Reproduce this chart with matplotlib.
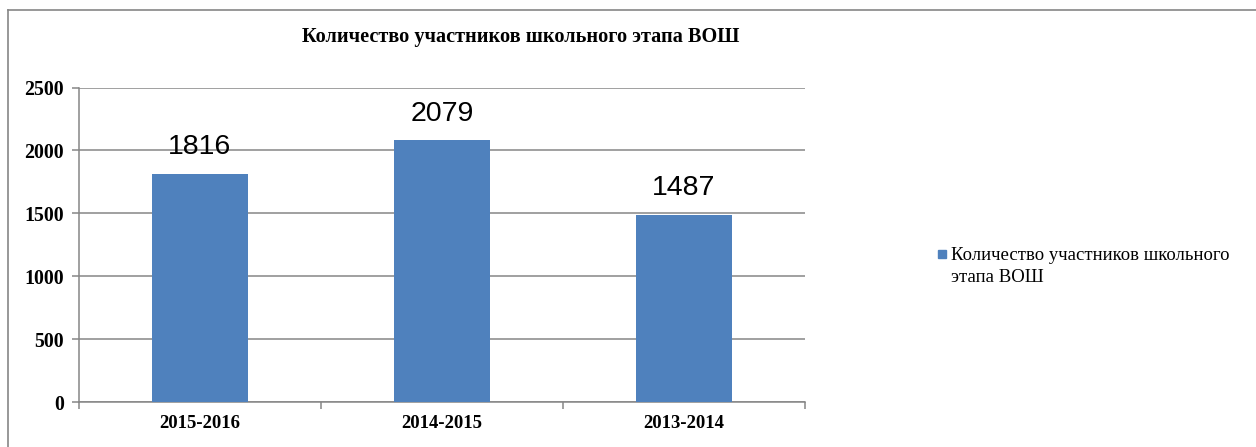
import matplotlib
matplotlib.use("Agg")
import matplotlib.pyplot as plt
from matplotlib.lines import Line2D

# data
years = ["2015-2016", "2014-2015", "2013-2014"]
participants = [1816, 2079, 1487]
series_name = "Количество участников школьного этапа ВОШ"
y_ticks = [0, 500, 1000, 1500, 2000, 2500]

W, H = 1256, 447
fig = plt.figure(figsize=(W / 100, H / 100), dpi=100)

# outer chart border (only left and top edges visible in the picture)
border = "#868686"
fig.add_artist(Line2D([8 / W, 8 / W], [0, 1 - 10 / H], color=border, lw=1.2, transform=fig.transFigure))
fig.add_artist(Line2D([8 / W, 1], [1 - 10 / H, 1 - 10 / H], color=border, lw=1.2, transform=fig.transFigure))

left, right, top, bottom = 79, 805, 87.5, 402
ax = fig.add_axes([left / W, 1 - bottom / H, (right - left) / W, (bottom - top) / H])

x = list(range(len(years)))
bars = ax.bar(x, participants, width=0.4, color="#4F81BD", zorder=3)

ax.set_xlim(-0.5, len(years) - 0.5)
ax.set_ylim(0, 2500)
ax.set_yticks(y_ticks)
ax.yaxis.grid(True, color=border, lw=1.1, zorder=0)

ytick_font = dict(family="Liberation Serif", weight="bold", size=14.3)
xtick_font = dict(family="Liberation Serif", weight="bold", size=13.5)
ax.set_yticklabels([str(v) for v in y_ticks], fontdict=ytick_font)
ax.set_xticks(x)
ax.set_xticklabels(years, fontdict=xtick_font)
ax.set_xticks([i - 0.5 for i in range(len(years) + 1)], minor=True)
ax.tick_params(axis="x", which="major", length=0, pad=9)
ax.tick_params(axis="x", which="minor", length=5, color=border, width=1.1)
ax.tick_params(axis="y", length=5, color=border, width=1.1, pad=6)

for s in ["top", "right"]:
    ax.spines[s].set_visible(False)
for s in ["left", "bottom"]:
    ax.spines[s].set_color(border)
    ax.spines[s].set_linewidth(1.1)

# value labels above bars
for b, v in zip(bars, participants):
    ax.annotate(str(v), (b.get_x() + b.get_width() / 2, v), xytext=(0, 10),
                textcoords="offset points", ha="center", va="bottom",
                family="Liberation Sans", size=20.5, color="#000000")

fig.text(521 / W, 1 - 37 / H, series_name, ha="center", va="center",
         family="Liberation Serif", weight="bold", size=14.6)

# legend
fig.patches.append(plt.Rectangle((938 / W, 1 - 258 / H), 8 / W, 8 / H,
                                 color="#4F81BD", transform=fig.transFigure))
fig.text(951 / W, 1 - 247 / H, "Количество участников школьного\nэтапа ВОШ",
         ha="left", va="top", family="Liberation Serif", size=13.5, linespacing=1.35)

fig.savefig("out.png", dpi=100)
